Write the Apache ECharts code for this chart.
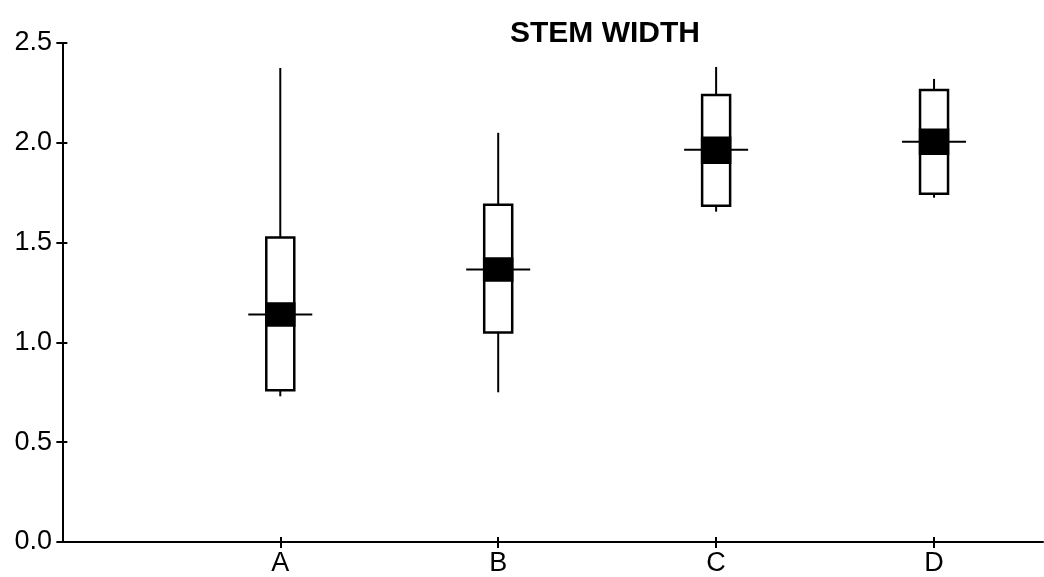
<!DOCTYPE html>
<html>
<head>
<meta charset="utf-8">
<script src="https://cdn.jsdelivr.net/npm/echarts@6/dist/echarts.min.js"></script>
<style>
  html, body { margin: 0; padding: 0; background: #fff; }
  #chart { width: 1044px; height: 577px; }
</style>
</head>
<body>
<div id="chart"></div>
<script>
// stem width, one box per group
var categories = ['A', 'B', 'C', 'D'];
var whiskerMin = [0.73, 0.75, 1.655, 1.725];
var boxLow     = [0.76, 1.05, 1.685, 1.745];
var bandLow    = [1.085, 1.31, 1.90, 1.945];
var centerLine = [1.14, 1.365, 1.965, 2.005];
var bandHigh   = [1.195, 1.42, 2.025, 2.065];
var boxHigh    = [1.525, 1.69, 2.24, 2.265];
var whiskerMax = [2.375, 2.05, 2.38, 2.32];

var data = categories.map(function (c, i) {
    return [i + 1, whiskerMin[i], boxLow[i], bandLow[i], centerLine[i], bandHigh[i], boxHigh[i], whiskerMax[i]];
});

var font = '"Liberation Sans", Arial, sans-serif';

function renderItem(params, api) {
    var x = api.value(0);
    var y = function (idx) { return api.coord([x, api.value(idx)])[1]; };
    var cx = api.coord([x, 0])[0];
    var wLo = y(1), bLo = y(2), nLo = y(3), mid = y(4), nHi = y(5), bHi = y(6), wHi = y(7);
    var boxW = 28, lineW = 64;
    var ink = { stroke: '#000', lineWidth: 2 };
    return {
        type: 'group',
        children: [
            { type: 'line', shape: { x1: cx, y1: wHi, x2: cx, y2: bHi }, style: ink },
            { type: 'line', shape: { x1: cx, y1: bLo, x2: cx, y2: wLo }, style: ink },
            { type: 'rect', shape: { x: cx - boxW / 2, y: bHi, width: boxW, height: bLo - bHi },
              style: { fill: '#fff', stroke: '#000', lineWidth: 2.5 } },
            { type: 'rect', shape: { x: cx - boxW / 2, y: nHi, width: boxW, height: nLo - nHi },
              style: { fill: '#000', stroke: '#000', lineWidth: 2.5 } },
            { type: 'line', shape: { x1: cx - lineW / 2, y1: mid, x2: cx + lineW / 2, y2: mid }, style: ink }
        ]
    };
}

var chart = echarts.init(document.getElementById('chart'));

var option = {
    animation: false,
    backgroundColor: '#fff',
    title: {
        text: 'STEM WIDTH',
        left: 600,
        textAlign: 'center',
        top: 14,
        textStyle: { fontFamily: font, fontSize: 30, fontWeight: 'bold', color: '#000' }
    },
    grid: { left: 58, right: 1, top: 43, bottom: 34 },
    xAxis: [{
        type: 'value',
        min: -0.02,
        max: 4.5,
        splitLine: { show: false },
        axisLine: { show: true, lineStyle: { color: '#000', width: 2 } },
        axisTick: { show: true, customValues: [1, 2, 3, 4], length: 6, lineStyle: { color: '#000', width: 2 } },
        axisLabel: {
            customValues: [1, 2, 3, 4],
            formatter: function (v) { return categories[Math.round(v) - 1] || ''; },
            margin: 8,
            fontFamily: font, fontSize: 27, color: '#000'
        }
    }, {
        type: 'value',
        position: 'bottom',
        min: -0.02,
        max: 4.5,
        splitLine: { show: false },
        axisLine: { show: false },
        axisTick: { show: true, inside: true, customValues: [1, 2, 3, 4], length: 5, lineStyle: { color: '#000', width: 2 } },
        axisLabel: { show: false }
    }],
    yAxis: [{
        type: 'value',
        min: 0,
        max: 2.5,
        interval: 0.5,
        splitLine: { show: false },
        axisLine: { show: true, lineStyle: { color: '#000', width: 2 } },
        axisTick: { show: true, length: 6, lineStyle: { color: '#000', width: 2 } },
        axisLabel: {
            formatter: function (v) { return v.toFixed(1); },
            margin: 6,
            fontFamily: font, fontSize: 27, color: '#000'
        }
    }, {
        type: 'value',
        position: 'left',
        min: 0,
        max: 2.5,
        interval: 0.5,
        splitLine: { show: false },
        axisLine: { show: false },
        axisTick: { show: true, inside: true, length: 5, lineStyle: { color: '#000', width: 2 } },
        axisLabel: { show: false }
    }],
    series: [{
        name: 'STEM WIDTH',
        type: 'custom',
        renderItem: renderItem,
        encode: { x: 0, y: [1, 2, 3, 4, 5, 6, 7] },
        data: data
    }]
};

chart.setOption(option);
window.addEventListener('resize', function () { chart.resize(); });
</script>
</body>
</html>
